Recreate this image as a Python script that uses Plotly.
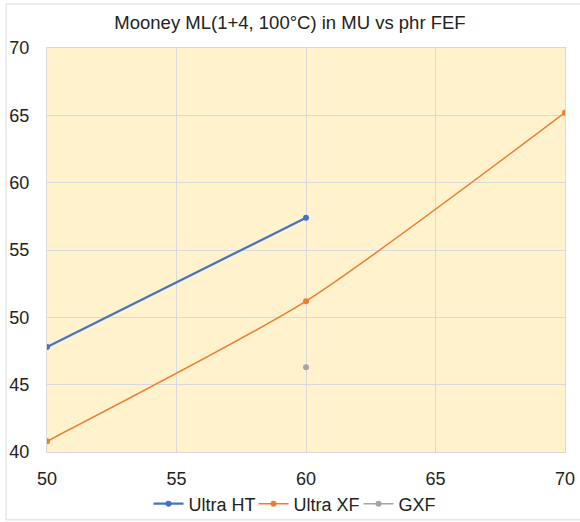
import plotly.graph_objects as go

phr_ht = [50, 60]
mooney_ht = [47.8, 57.4]
phr_xf = [50, 60, 70]
mooney_xf = [40.8, 51.2, 65.2]
phr_gxf = [60]
mooney_gxf = [46.3]
x_ticks = [50, 55, 60, 65, 70]
y_ticks = [40, 45, 50, 55, 60, 65, 70]

FONT = "Liberation Sans, Arial, sans-serif"
fig = go.Figure()
fig.add_trace(go.Scatter(x=phr_ht, y=mooney_ht, name="Ultra HT", mode="lines+markers",
                         line=dict(color="#4472C4", width=2.25), marker=dict(size=6, color="#4472C4")))
fig.add_trace(go.Scatter(x=phr_xf, y=mooney_xf, name="Ultra XF", mode="lines+markers",
                         line=dict(color="#ED7D31", width=1.5, shape="spline", smoothing=0.6),
                         marker=dict(size=6, color="#ED7D31")))
fig.add_trace(go.Scatter(x=phr_gxf, y=mooney_gxf, name="GXF", mode="lines+markers",
                         line=dict(color="#A5A5A5", width=1.5), marker=dict(size=6, color="#A5A5A5")))

fig.update_layout(
    width=580, height=522,
    margin=dict(l=47, r=15, t=48, b=70),
    paper_bgcolor="white", plot_bgcolor="#FFF2CC",
    font=dict(family=FONT, size=18, color="#222222"),
    title=dict(text="Mooney ML(1+4, 100°C) in MU vs phr FEF", x=0.5, xanchor="center",
               y=1 - 23 / 522, yanchor="middle", font=dict(size=18.5, color="#222222")),
    showlegend=True,
    legend=dict(orientation="h", x=0.5, xanchor="center", yref="container",
                y=1 - 504 / 522, yanchor="middle",
                font=dict(size=18), itemwidth=30, entrywidth=60, tracegroupgap=0,
                bgcolor="rgba(0,0,0,0)"),
    xaxis=dict(range=[50, 70], tickvals=x_ticks, showgrid=True, gridcolor="#D9D9D9", gridwidth=1,
               zeroline=False, showline=True, linecolor="#D9D9D9", mirror=True, ticks="",
               ticklabelstandoff=10, automargin=False),
    yaxis=dict(range=[40, 70], tickvals=y_ticks, showgrid=True, gridcolor="#D9D9D9", gridwidth=1,
               zeroline=False, showline=True, linecolor="#D9D9D9", mirror=True, ticks="",
               ticklabelstandoff=13, automargin=False),
    shapes=[dict(type="rect", xref="paper", yref="paper", x0=-0.079, x1=1.03, y0=-0.168, y1=1.109,
                 line=dict(color="#D9D9D9", width=1), fillcolor="rgba(0,0,0,0)", layer="below")],
)
fig.write_html("out.html", config={"displayModeBar": False},
               post_script="document.body.style.margin='0';")
